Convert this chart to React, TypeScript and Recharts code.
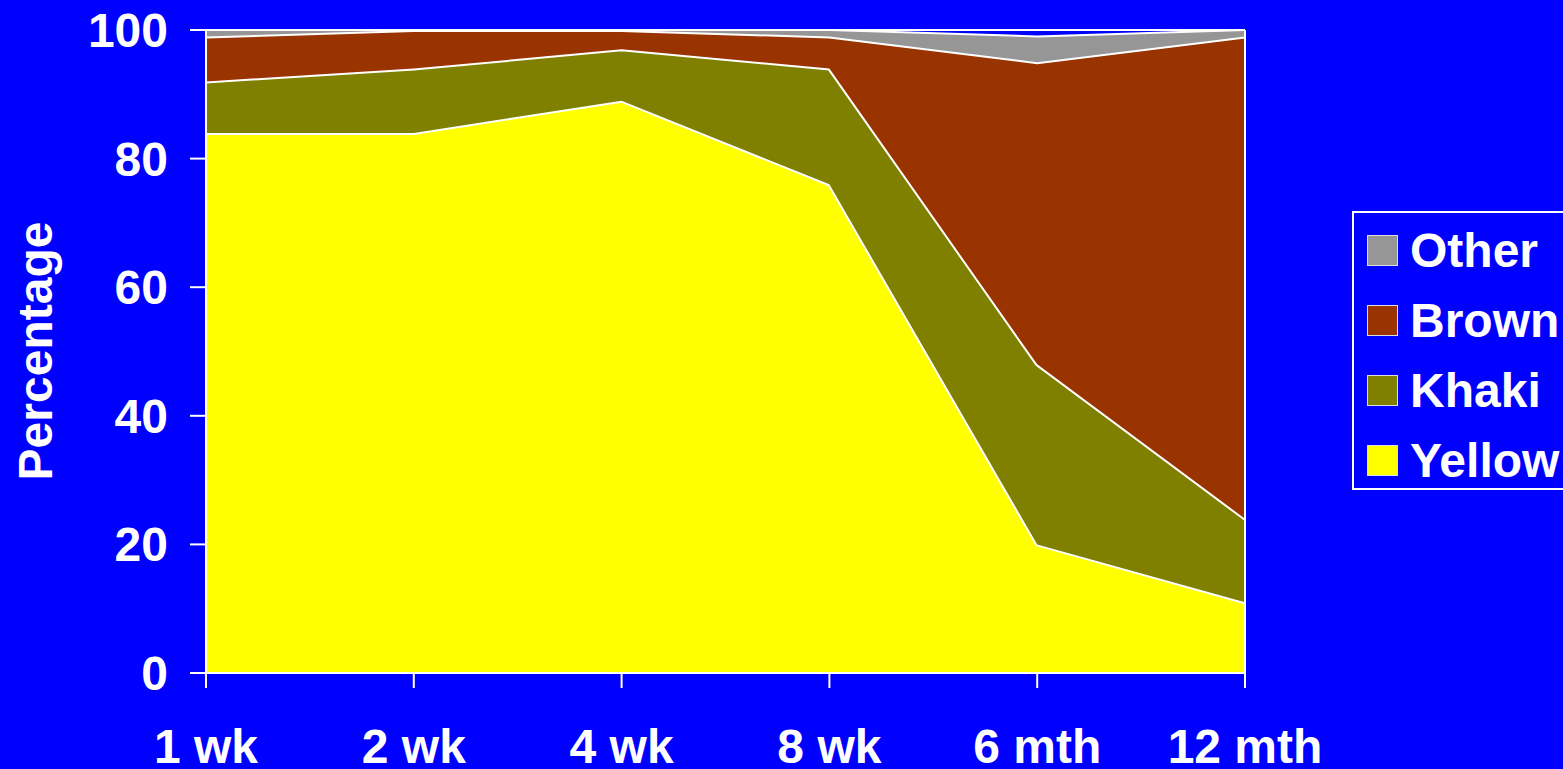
import React from 'react';
import { AreaChart, Area, XAxis, YAxis, Legend, ReferenceLine } from 'recharts';

const categories = ['1 wk', '2 wk', '4 wk', '8 wk', '6 mth', '12 mth'];
const yellow = [84, 84, 89, 76, 20, 11];
const khaki = [8, 10, 8, 18, 28, 13];
const brown = [7, 6, 3, 5, 47, 75];
const other = [1, 0, 0, 1, 4, 1];
const yTicks = [0, 20, 40, 60, 80, 100];

const seriesNames = ['Yellow', 'Khaki', 'Brown', 'Other'];
const seriesColors = ['#FFFF00', '#808000', '#993300', '#969696'];
const legendOrder = ['Other', 'Brown', 'Khaki', 'Yellow'];

const data = categories.map((c, i) => ({
  name: c,
  Yellow: yellow[i],
  Khaki: khaki[i],
  Brown: brown[i],
  Other: other[i],
}));

const FONT = '"Liberation Sans", Arial, Helvetica, sans-serif';
const BG = '#0000FF';
const FS = 48;

const renderLegend = () => {
  return (
    <div
      style={{
        border: '2px solid #fff',
        boxSizing: 'border-box',
        height: 279,
        width: 260,
        paddingTop: 2.5,
        paddingLeft: 13,
        background: BG,
      }}
    >
      {legendOrder.map((n) => (
        <div
          key={n}
          style={{ height: 70, display: 'flex', alignItems: 'center' }}
        >
          <div
            style={{
              width: 31,
              height: 31,
              boxSizing: 'border-box',
              background: seriesColors[seriesNames.indexOf(n)],
              border: '1px solid #ddd',
              marginRight: 12,
            }}
          />
          <span
            style={{
              color: '#fff',
              fontFamily: FONT,
              fontWeight: 'bold',
              fontSize: FS,
              lineHeight: 1,
              whiteSpace: 'nowrap',
            }}
          >
            {n}
          </span>
        </div>
      ))}
    </div>
  );
};

const YLabel = () => (
  <text
    x={52}
    y={351}
    transform="rotate(-90 52 351)"
    textAnchor="middle"
    fill="#fff"
    fontSize={FS}
    fontWeight="bold"
    fontFamily={FONT}
  >
    Percentage
  </text>
);

export default function App() {
  return (
    <div
      style={{
        position: 'absolute',
        left: 0,
        top: 0,
        width: 1563,
        height: 769,
        background: BG,
        overflow: 'hidden',
      }}
    >
      <AreaChart
        width={1563}
        height={769}
        data={data}
        margin={{ top: 30, right: 318, bottom: 0, left: 0 }}
      >
        <XAxis
          dataKey="name"
          height={96}
          axisLine={{ stroke: '#fff', strokeWidth: 2 }}
          tickLine={{ stroke: '#fff', strokeWidth: 2 }}
          tickSize={15}
          tickMargin={41}
          interval={0}
          tick={{ fill: '#fff', fontSize: FS, fontWeight: 'bold', fontFamily: FONT }}
        />
        <YAxis
          width={206}
          domain={[0, 100]}
          ticks={yTicks}
          allowDataOverflow
          axisLine={{ stroke: '#fff', strokeWidth: 2 }}
          tickLine={{ stroke: '#fff', strokeWidth: 2 }}
          tickSize={16}
          tickMargin={22}
          tick={{ fill: '#fff', fontSize: FS, fontWeight: 'bold', fontFamily: FONT }}
          label={{ content: () => <YLabel /> }}
        />
        {seriesNames.map((n, i) => (
          <Area
            key={n}
            type="linear"
            dataKey={n}
            name={n}
            stackId="1"
            fill={seriesColors[i]}
            fillOpacity={1}
            stroke="#fff"
            strokeWidth={n === 'Other' ? 2 : 4}
            isAnimationActive={false}
            dot={false}
            activeDot={false}
          />
        ))}
        <ReferenceLine y={100} stroke="#fff" strokeWidth={2} />
        <ReferenceLine x="12 mth" stroke="#fff" strokeWidth={2} />
        <Legend
          layout="horizontal"
          verticalAlign="middle"
          align="center"
          wrapperStyle={{ left: 1352, top: 211, width: 260 }}
          content={renderLegend}
        />
      </AreaChart>
    </div>
  );
}
